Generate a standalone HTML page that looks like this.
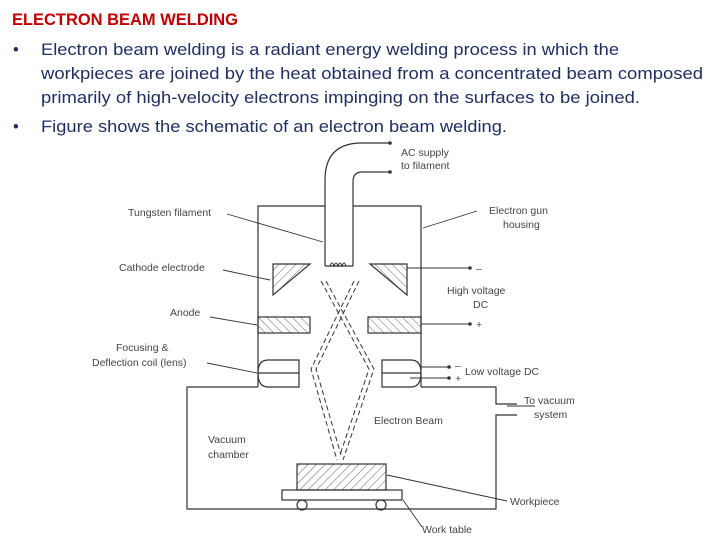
<!DOCTYPE html>
<html><head><meta charset="utf-8"><style>
html,body{margin:0;padding:0;background:#fff;width:720px;height:540px;overflow:hidden}
svg{display:block}
.h{font-family:"Liberation Sans",sans-serif;fill:#1f3060;font-size:16.5px}
.l{font-family:"Liberation Sans",sans-serif;fill:#444;font-size:10.5px}
</style></head><body>
<svg width="720" height="540" viewBox="0 0 720 540" xmlns="http://www.w3.org/2000/svg">
<defs>
<pattern id="hatch" width="6" height="6" patternUnits="userSpaceOnUse" patternTransform="rotate(45)">
<line x1="0" y1="0" x2="0" y2="6" stroke="#444" stroke-width="0.8"/></pattern>
<pattern id="hatch2" width="6" height="6" patternUnits="userSpaceOnUse" patternTransform="rotate(-45)">
<line x1="0" y1="0" x2="0" y2="6" stroke="#444" stroke-width="0.8"/></pattern>
</defs>
<text x="12" y="25" font-family="Liberation Sans,sans-serif" font-weight="bold" font-size="16.5" fill="#c00000" textLength="226" lengthAdjust="spacingAndGlyphs">ELECTRON BEAM WELDING</text>
<text x="13" y="55" class="h">•</text>
<text x="41" y="55" class="h" textLength="578" lengthAdjust="spacingAndGlyphs">Electron beam welding is a radiant energy welding process in which the</text>
<text x="41" y="79" class="h" textLength="662" lengthAdjust="spacingAndGlyphs">workpieces are joined by the heat obtained from a concentrated beam composed</text>
<text x="41" y="103" class="h" textLength="599" lengthAdjust="spacingAndGlyphs">primarily of high-velocity electrons impinging on the surfaces to be joined.</text>
<text x="13" y="132" class="h">•</text>
<text x="41" y="132" class="h" textLength="466" lengthAdjust="spacingAndGlyphs">Figure shows the schematic of an electron beam welding.</text>

<g fill="none" stroke="#333" stroke-width="1.2">
<path d="M325,266 V180 Q325,144 360,143 L390,143"/>
<path d="M353,266 V182 Q353,172 362,172 L390,172"/>
<line x1="325" y1="266" x2="353" y2="266"/>
<path d="M325,206 H258 V387"/>
<path d="M353,206 H421 V387"/>
<path d="M258,387 H187 V509 H496 V415 H517"/>
<path d="M421,387 H496 V404 H517"/>
<path d="M299,360 H268 Q258,360 258,373 Q258,387 268,387 H299 Z"/>
<line x1="258" y1="373" x2="299" y2="373"/>
<path d="M382,360 H411 Q421,360 421,373 Q421,387 411,387 H382 Z"/>
<line x1="382" y1="373" x2="421" y2="373"/>
<path d="M273,264 H310 L273,295 Z" fill="url(#hatch)"/>
<path d="M370,264 H407 V295 Z" fill="url(#hatch2)"/>
<rect x="258" y="317" width="52" height="16" fill="url(#hatch2)"/>
<rect x="368" y="317" width="53" height="16" fill="url(#hatch2)"/>
<rect x="297" y="464" width="89" height="26" fill="url(#hatch)"/>
<rect x="282" y="490" width="120" height="10"/>
<circle cx="302" cy="505" r="5"/><circle cx="381" cy="505" r="5"/>
<g stroke-dasharray="5,3" stroke-width="1">
<path d="M354,281 L311,369 L337,460"/>
<path d="M359,281 L316,369 L341,455"/>
<path d="M326,281 L374,369 L343,460"/>
<path d="M321,281 L369,369 L340,455"/>
</g>
<path d="M330,266 q2,-6 4,0 q2,-6 4,0 q2,-6 4,0 q2,-6 4,0" stroke-width="1"/>
<g stroke-width="0.9">
<line x1="227" y1="214" x2="323" y2="242"/>
<line x1="223" y1="270" x2="270" y2="280"/>
<line x1="210" y1="317" x2="257" y2="325"/>
<line x1="207" y1="363" x2="257" y2="373"/>
<line x1="477" y1="211" x2="423" y2="228"/>
<line x1="507" y1="501" x2="387" y2="475"/>
<line x1="422" y1="527" x2="403" y2="500"/>
<line x1="407" y1="268" x2="470" y2="268"/>
<line x1="421" y1="324" x2="470" y2="324"/>
<line x1="421" y1="367" x2="449" y2="367"/>
<line x1="410" y1="378" x2="449" y2="378"/>
<line x1="507" y1="406" x2="535" y2="406"/>
</g>
</g>
<g fill="#333"><circle cx="390" cy="143" r="1.8"/><circle cx="390" cy="172" r="1.8"/><circle cx="470" cy="268" r="1.8"/><circle cx="470" cy="324" r="1.8"/><circle cx="449" cy="367" r="1.8"/><circle cx="449" cy="378" r="1.8"/></g>
<text x="401" y="156" class="l">AC supply</text>
<text x="401" y="169" class="l">to filament</text>
<text x="128" y="216" class="l">Tungsten filament</text>
<text x="489" y="214" class="l">Electron gun</text>
<text x="503" y="228" class="l">housing</text>
<text x="119" y="271" class="l">Cathode electrode</text>
<text x="476" y="272" class="l">–</text>
<text x="447" y="294" class="l">High voltage</text>
<text x="473" y="308" class="l">DC</text>
<text x="170" y="316" class="l">Anode</text>
<text x="476" y="328" class="l">+</text>
<text x="116" y="351" class="l">Focusing &amp;</text>
<text x="92" y="366" class="l">Deflection coil (lens)</text>
<text x="455" y="369" class="l">–</text>
<text x="455" y="382" class="l">+</text>
<text x="465" y="375" class="l">Low voltage DC</text>
<text x="524" y="404" class="l">To vacuum</text>
<text x="534" y="418" class="l">system</text>
<text x="374" y="424" class="l">Electron Beam</text>
<text x="208" y="443" class="l">Vacuum</text>
<text x="208" y="458" class="l">chamber</text>
<text x="510" y="505" class="l">Workpiece</text>
<text x="422" y="533" class="l">Work table</text>
</svg>
</body></html>
